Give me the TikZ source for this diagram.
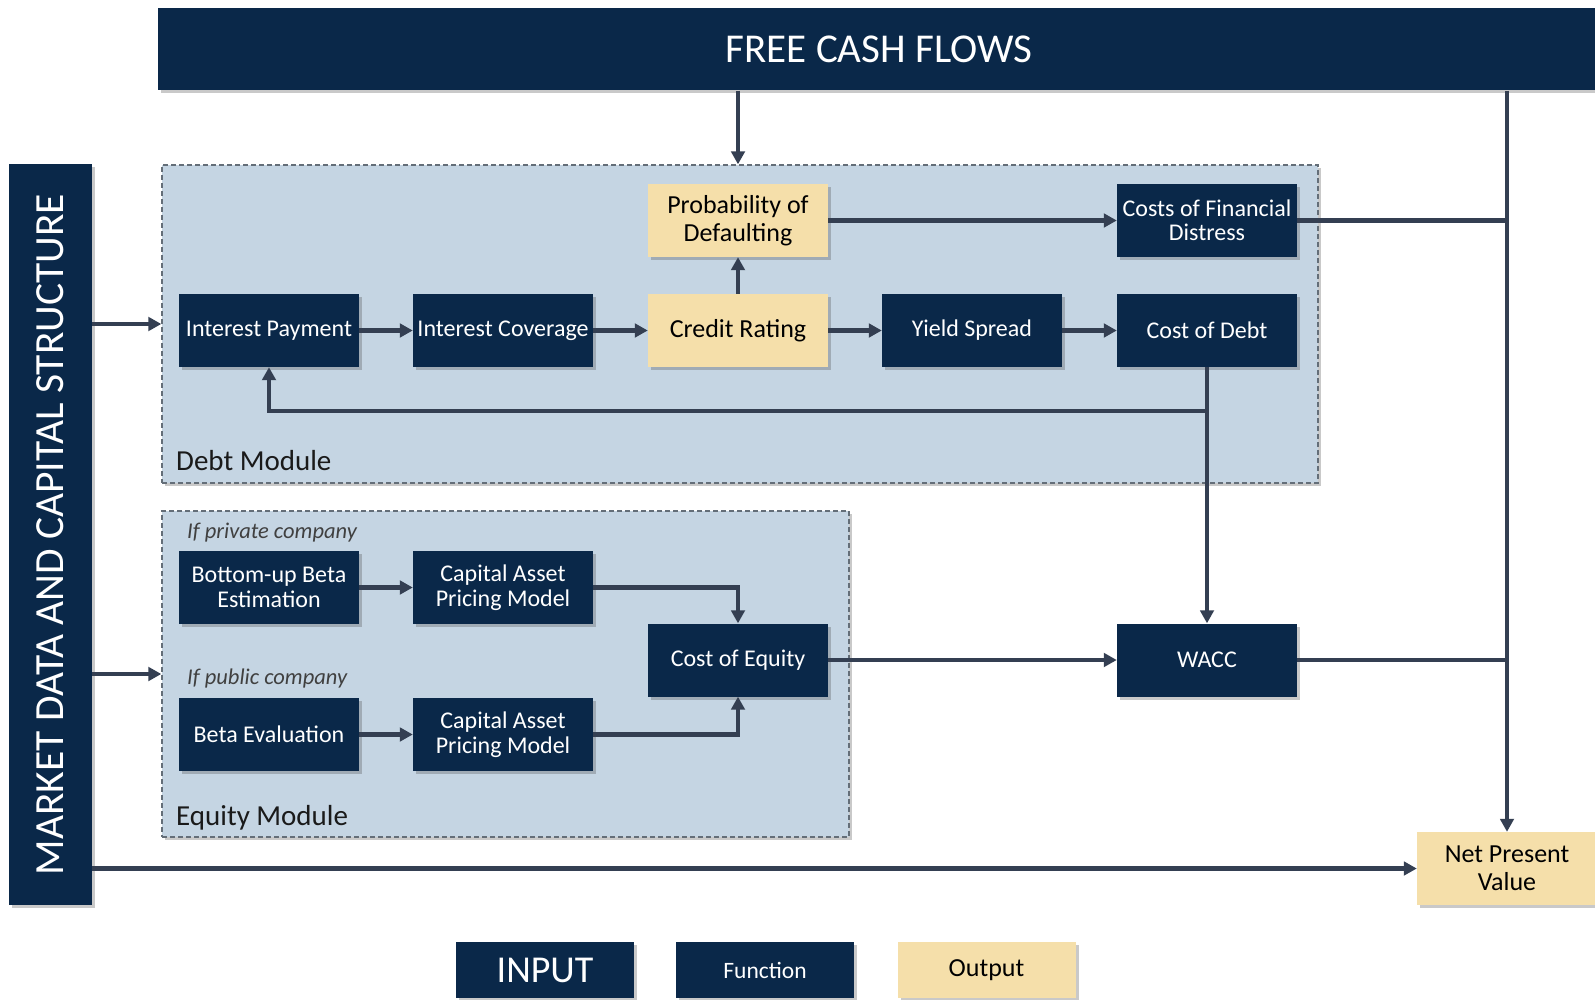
\documentclass[tikz,border=0pt]{standalone}
\usepackage{fontspec}
\setmainfont{Carlito}
\usetikzlibrary{arrows.meta,shadows}
\definecolor{navy}{HTML}{0A2849}
\definecolor{yel}{HTML}{F5DFAA}
\definecolor{modfill}{HTML}{C5D5E3}
\definecolor{linec}{HTML}{343F52}
\definecolor{dashc}{HTML}{646E78}
\definecolor{labc}{HTML}{1A1A1A}
\definecolor{itc}{HTML}{404040}
\begin{document}
\begin{tikzpicture}[x=1pt,y=-1pt,
  shadowed/.style={drop shadow={shadow xshift=3pt,shadow yshift=-3pt,opacity=0.3,fill=black!70}},
  fnbox/.style={fill=navy,text=white,minimum width=180pt,minimum height=73pt,inner sep=0pt,align=center,font=\fontsize{24}{24.5}\selectfont,shadowed},
  outbox/.style={fill=yel,text=black,minimum width=180pt,minimum height=73pt,inner sep=0pt,align=center,font=\fontsize{26}{28}\selectfont,shadowed},
  module/.style={fill=modfill,draw=dashc,dash pattern=on 5pt off 3pt,line width=1.3pt,inner sep=0pt,shadowed},
  conn/.style={draw=linec,line width=4.3pt},
  arr/.style={conn,-{Triangle[length=13pt,width=13.5pt]}},
  modlabel/.style={anchor=base west,inner sep=0pt,text=labc,font=\fontsize{29}{30}\selectfont},
  itlabel/.style={anchor=base west,inner sep=0pt,text=itc,font=\itshape\fontsize{22.5}{23}\selectfont}
]
\useasboundingbox (0,0) rectangle (1595,1000);

% bars
\node[fill=navy,minimum width=1442pt,minimum height=82.5pt,inner sep=0pt,shadowed,text=white,font=\fontsize{41}{42}\selectfont] (fcf) at (879,49.25) {FREE CASH FLOWS};
\node[fill=navy,minimum width=83pt,minimum height=741pt,inner sep=0pt,shadowed] (mkt) at (50.5,534.5) {};
\node[rotate=90,text=white,font=\fontsize{41.5}{42}\selectfont,inner sep=0pt] (mkttext) at (mkt.center) {MARKET DATA AND CAPITAL STRUCTURE};

% modules
\node[module,minimum width=1156pt,minimum height=318pt] (debt) at (740,324) {};
\node[module,minimum width=687pt,minimum height=326pt] (eq) at (505.5,674) {};
\node[modlabel] (debtlab) at (176,470) {Debt Module};
\node[modlabel] (eqlab) at (176,825) {Equity Module};
\node[itlabel] (priv) at (187,538) {If private company};
\node[itlabel] (pub) at (187,684) {If public company};

% debt module boxes
\node[outbox] (pd) at (738,220.5) {Probability of\\Defaulting};
\node[fnbox] (cfd) at (1207,220.5) {Costs of Financial\\Distress};
\node[fnbox] (ip) at (269,330.5) {Interest Payment};
\node[fnbox] (ic) at (503,330.5) {Interest Coverage};
\node[outbox] (cr) at (738,330.5) {Credit Rating};
\node[fnbox] (ys) at (972,330.5) {Yield Spread};
\node[fnbox] (cod) at (1207,330.5) {Cost of Debt};

% equity module boxes
\node[fnbox] (bub) at (269,587.5) {Bottom-up Beta\\Estimation};
\node[fnbox] (capma) at (503,587.5) {Capital Asset\\Pricing Model};
\node[fnbox] (be) at (269,734.5) {Beta Evaluation};
\node[fnbox] (capmb) at (503,734.5) {Capital Asset\\Pricing Model};
\node[fnbox] (coe) at (738,660) {Cost of Equity};

\node[fnbox] (wacc) at (1207,660) {WACC};
\node[outbox] (npv) at (1507,868.5) {Net Present\\Value};

% legend
\node[fnbox,minimum width=178pt,minimum height=56pt,font=\fontsize{38}{38}\selectfont] (linput) at (545,970) {INPUT};
\node[fnbox,minimum width=178pt,minimum height=56pt,font=\fontsize{23.5}{24}\selectfont] (lfunc) at (765,970) {Function};
\node[outbox,minimum width=178pt,minimum height=56pt,font=\fontsize{26}{26}\selectfont] (lout) at (986.5,970) {Output};

% connectors
\draw[arr] (fcf.south -| pd) -- (debt.north -| pd);
\draw[arr] (mkt.east |- debt.west) -- (debt.west);
\draw[arr] (mkt.east |- eq.west) -- (eq.west);
\draw[arr] (mkt.east |- npv.west) -- (npv.west);

\draw[arr] (ip) -- (ic);
\draw[arr] (ic) -- (cr);
\draw[arr] (cr) -- (ys);
\draw[arr] (ys) -- (cod);
\draw[arr] (cr) -- (pd);
\draw[arr] (pd) -- (cfd);
\draw[arr] (cod.south) -- ++(0,44) -| (ip.south);
\draw[arr] (cod.south) -- (wacc.north);

\draw[arr] (bub) -- (capma);
\draw[arr] (be) -- (capmb);
\draw[arr] (capma.east) -| (coe.north);
\draw[arr] (capmb.east) -| (coe.south);
\draw[arr] (coe) -- (wacc);

\draw[arr] (fcf.south -| npv) -- (npv.north);
\draw[conn] (cfd.east) -- (cfd.east -| npv);
\draw[conn] (wacc.east) -- (wacc.east -| npv);
\end{tikzpicture}
\end{document}
